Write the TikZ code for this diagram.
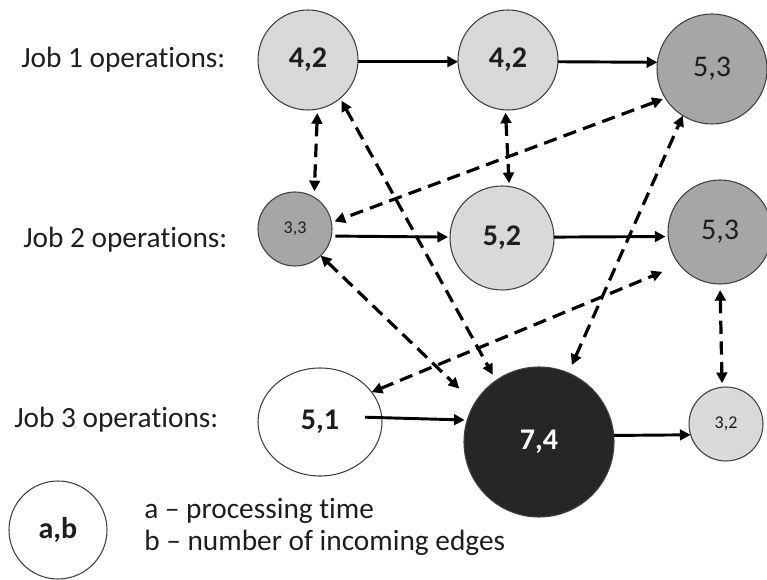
\documentclass[tikz,border=0pt]{standalone}
\usepackage{fontspec}
\setmainfont{Carlito}[Ligatures={NoCommon}]
\usetikzlibrary{arrows.meta,shapes.geometric}
\definecolor{opLight}{HTML}{D9D9D9}
\definecolor{opMid}{HTML}{A6A6A6}
\definecolor{opDark}{HTML}{262626}
\definecolor{rim}{HTML}{404040}
\definecolor{ink}{HTML}{1E1E1E}

\begin{document}
\begin{tikzpicture}[x=0.75pt,y=-0.75pt,
  op/.style={circle,draw=rim,line width=0.8pt,inner sep=0pt,outer sep=0pt,text=ink},
  bigbold/.style={font=\fontsize{22.5}{27}\selectfont\bfseries},
  bigreg/.style={font=\fontsize{22.5}{27}\selectfont},
  smallreg/.style={font=\fontsize{13.5}{16}\selectfont},
  jobtext/.style={font=\fontsize{22}{26}\selectfont,text=ink,inner sep=0pt,anchor=west},
  keytext/.style={font=\fontsize{22}{26}\selectfont,text=ink,inner sep=0pt,anchor=base west},
  tip/.style={},
  seq/.style={line width=2.2pt,-{Triangle[length=8pt,width=8pt]}},
  res/.style={line width=2.4pt,dash pattern=on 10pt off 5.5pt,
    {Triangle[length=8pt,width=8pt]}-{Triangle[length=8pt,width=8pt]}},
]
\useasboundingbox (0,0) rectangle (767,580);

% row labels
\node[jobtext] (L1) at (21,60)  {Job 1 operations:};
\node[jobtext] (L2) at (23,240) {Job 2 operations:};
\node[jobtext] (L3) at (14,420) {Job 3 operations:};

% job 1
\node[op,fill=opLight,minimum size=75pt,bigbold] (A1) at (308,60) {4,2};
\node[op,fill=opLight,minimum size=75pt,bigbold] (A2) at (508,60) {4,2};
\node[op,fill=opMid,minimum size=82.5pt,bigreg]  (A3) at (712,69) {5,3};
% job 2
\node[op,fill=opMid,minimum size=55.5pt,smallreg] (B1) at (295,229) {3,3};
\node[op,fill=opLight,minimum size=78pt,bigbold]  (B2) at (502,238) {5,2};
\node[op,fill=opMid,minimum size=78pt,bigreg]     (B3) at (720,232) {5,3};
% job 3
\node[ellipse,draw=rim,line width=0.8pt,inner sep=0pt,outer sep=0pt,fill=white,text=ink,
      minimum width=93pt,minimum height=81pt,bigbold] (C1) at (320,422) {5,1};
\node[op,fill=opDark,text=white,minimum size=112.5pt,bigbold] (C2) at (539,442) {7,4};
\node[op,fill=opLight,minimum size=55.5pt,smallreg] (C3) at (726,424) {3,2};

% key
\node[op,fill=white,minimum size=73.5pt,bigbold] (key) at (58,530) {a,b};
\node[keytext] (K1) at (144,518) {a – processing time};
\node[keytext] (K2) at (144,550) {b – number of incoming edges};

% operation order inside each job
\draw[seq] (A1.-2) -- (A2.182);
\draw[seq] (A2.-2) -- (A3.173);
\draw[seq,shorten <=3pt,shorten >=1.5pt] (B1.-11) -- (B2.179);
\draw[seq,shorten >=2pt] (B2.1) -- (B3.185);
\draw[seq,shorten <=-12.75pt,shorten >=2pt] (C1.4) -- (C2.163);
\draw[seq] (C2.5) -- (C3.197);

% shared-resource conflicts
\draw[res,shorten <=3pt,shorten >=4.5pt] (A1.-79) -- (B1.59);
\draw[res,shorten <=2pt,shorten >=2.5pt] (A2.-93) -- (B2.82);
\draw[res,shorten <=2pt,shorten >=2.5pt] (A3.212) -- (B1.10);
\draw[res,shorten <=2pt,shorten >=5pt] (A1.-50) -- (C2.125);
\draw[res,shorten >=16pt] (B1.-46) -- (C2.149);
\draw[res,shorten <=6.5pt] (C2.67) -- (A3.-122);
\draw[res,shorten >=14pt] (C1.30) -- (B3.219);
\draw[res,shorten <=4.5pt,shorten >=3pt] (B3.-90) -- (C3.96);
\end{tikzpicture}
\end{document}
